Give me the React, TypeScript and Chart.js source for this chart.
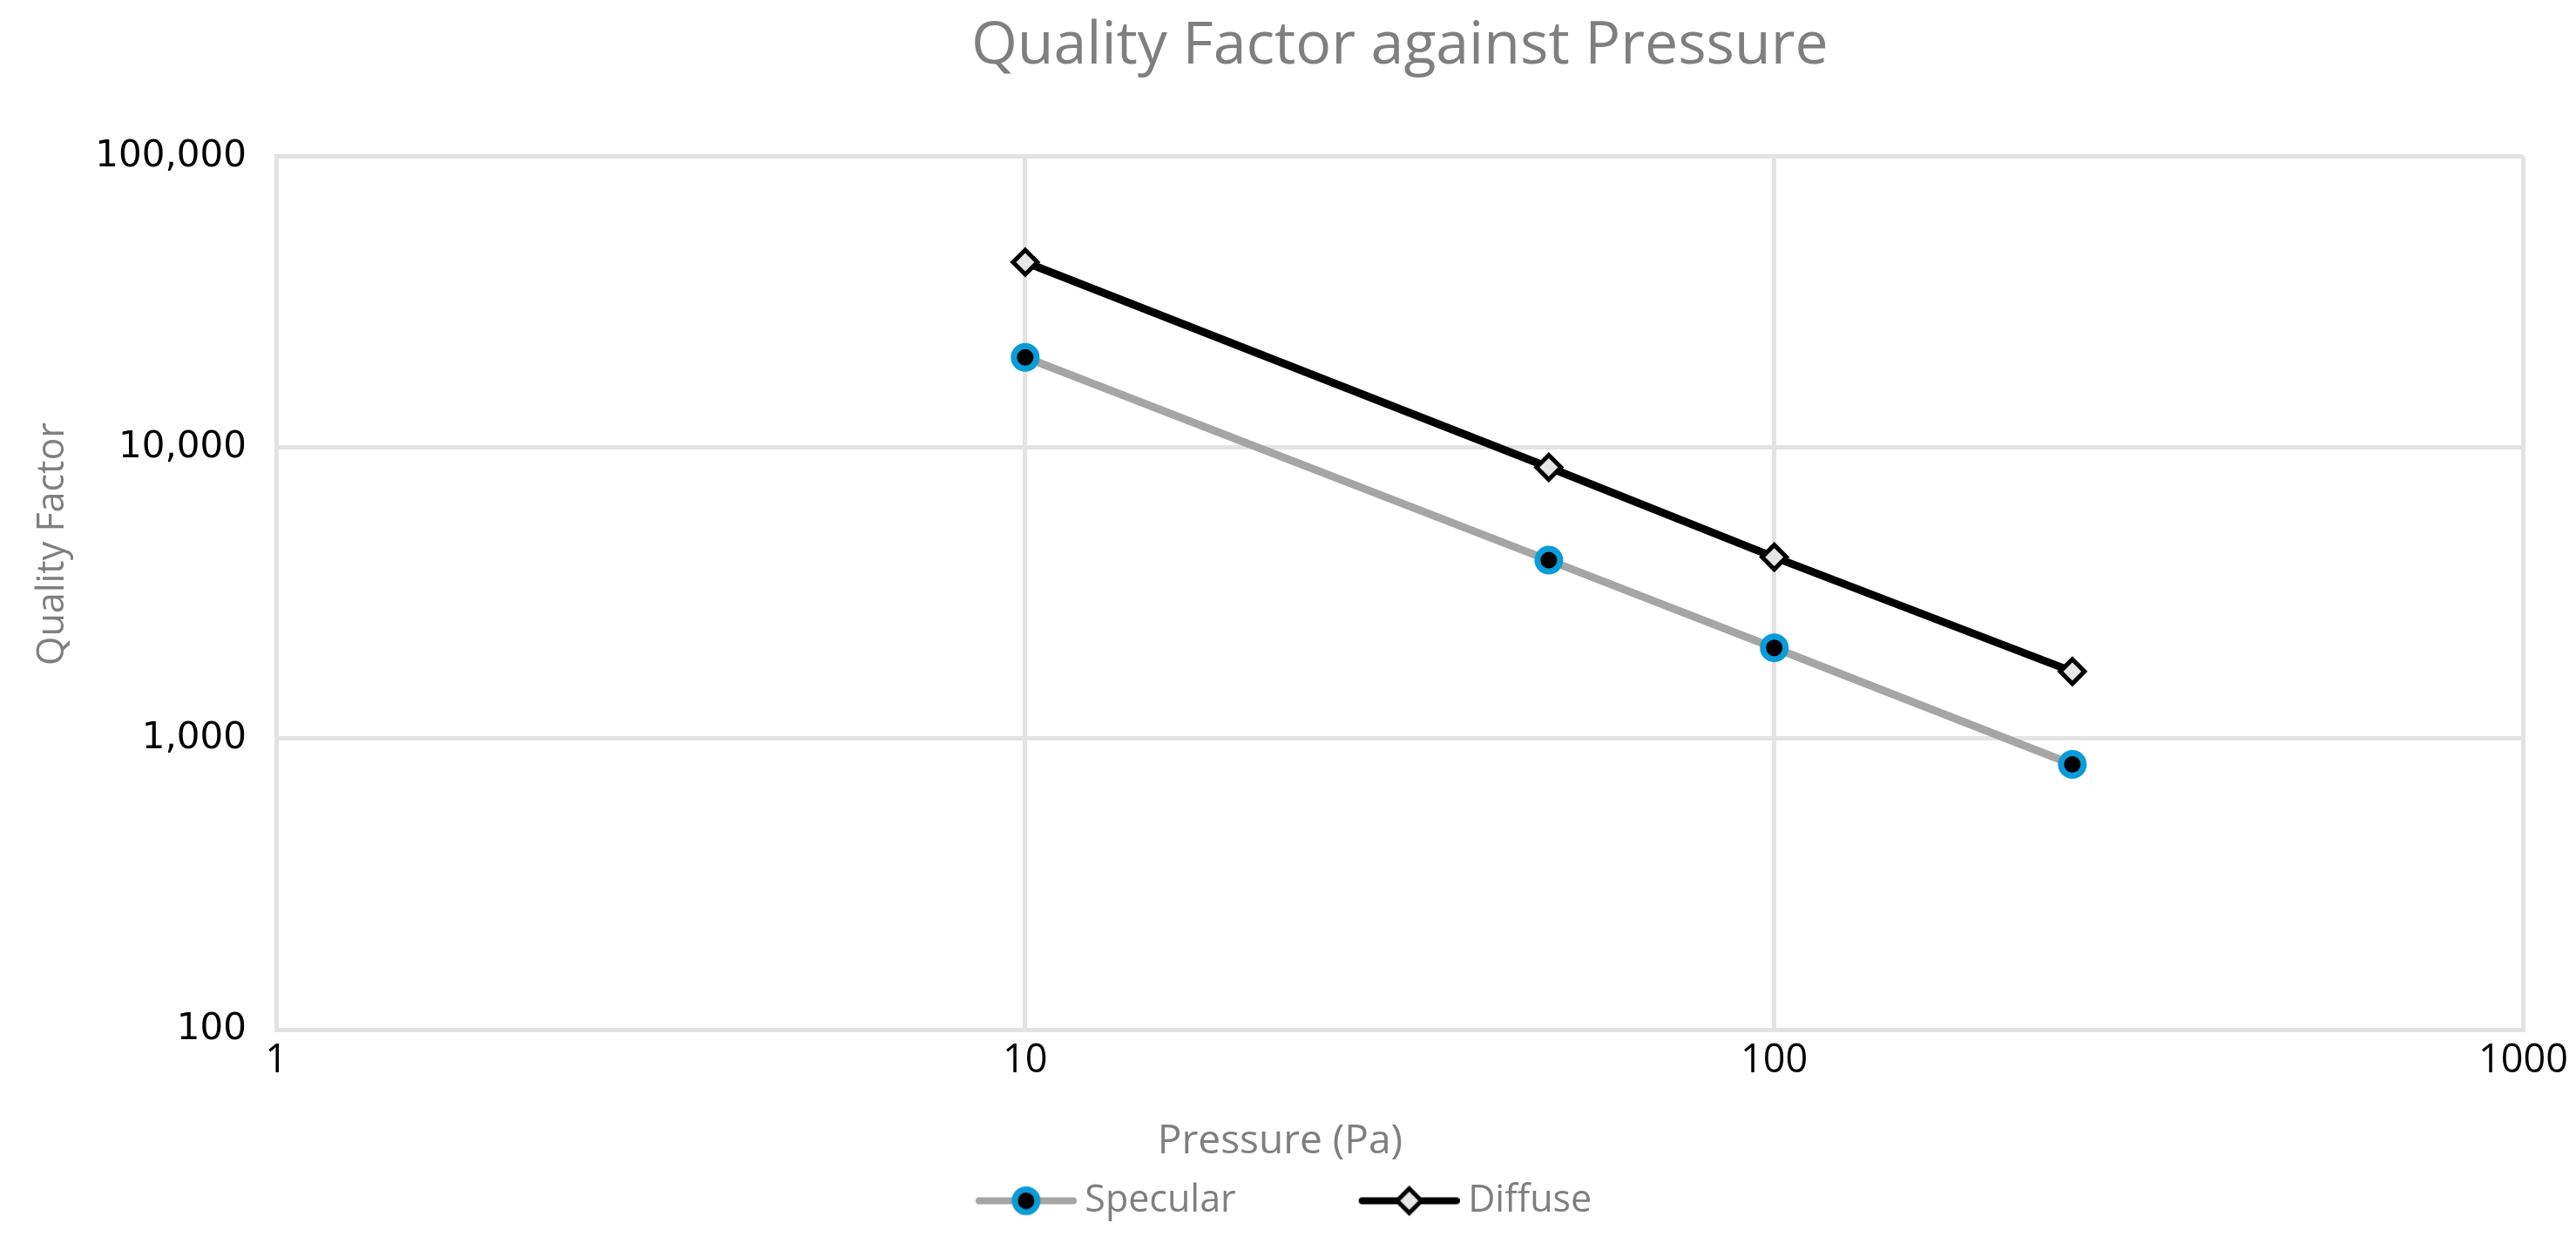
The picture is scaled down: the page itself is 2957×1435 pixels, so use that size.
import React, { useEffect, useRef } from 'react';
import { Chart, registerables } from 'chart.js';

Chart.register(...registerables);

const chartTitle = 'Quality Factor against Pressure';
const xAxisTitle = 'Pressure (Pa)';
const yAxisTitle = 'Quality Factor';
const seriesNames = ['Specular', 'Diffuse'];
const pressures = [10, 50, 100, 250];
const specular = [20400, 4100, 2050, 815];
const diffuse = [43300, 8550, 4200, 1700];
const xTicks = [1, 10, 100, 1000];
const yTicks = [100, 1000, 10000, 100000];

const GRAY_TEXT = '#7F7F7F';
const GRID = '#E3E3E3';
const SPEC_LINE = '#A5A5A5';
const SPEC_RING = '#0A9BD9';
const DIFF_FILL = '#E7E6E6';

const LEGEND_BOX = 125;

function makeLegendIcon(kind: 'spec' | 'diff') {
  const c = document.createElement('canvas');
  c.width = LEGEND_BOX + 24;
  c.height = 40;
  const ctx = c.getContext('2d')!;
  const x0 = c.width - 116;
  const mid = x0 + 58;
  ctx.lineCap = 'round';
  ctx.lineWidth = 8;
  ctx.strokeStyle = kind === 'spec' ? SPEC_LINE : '#000';
  ctx.beginPath();
  ctx.moveTo(x0 + 4, 20);
  ctx.lineTo(x0 + 112, 20);
  ctx.stroke();
  if (kind === 'spec') {
    ctx.beginPath();
    ctx.arc(mid, 20, 13, 0, Math.PI * 2);
    ctx.fillStyle = '#000';
    ctx.fill();
    ctx.lineWidth = 7;
    ctx.strokeStyle = SPEC_RING;
    ctx.stroke();
  } else {
    ctx.beginPath();
    ctx.moveTo(mid, 6);
    ctx.lineTo(mid + 14, 20);
    ctx.lineTo(mid, 34);
    ctx.lineTo(mid - 14, 20);
    ctx.closePath();
    ctx.fillStyle = DIFF_FILL;
    ctx.fill();
    ctx.lineWidth = 5;
    ctx.strokeStyle = '#000';
    ctx.stroke();
  }
  return c;
}

const axisTitlesPlugin = {
  id: 'axisTitles',
  afterDraw(chart: any) {
    const { ctx, chartArea } = chart;
    ctx.save();
    ctx.fillStyle = GRAY_TEXT;
    ctx.textAlign = 'center';
    ctx.textBaseline = 'middle';
    ctx.font = '46px "Open Sans"';
    ctx.fillText(xAxisTitle, chart.width / 2 - 9, chartArea.bottom + 129);
    ctx.translate(61, chartArea.top + 445);
    ctx.rotate(-Math.PI / 2);
    ctx.font = '43px "Open Sans"';
    ctx.fillText(yAxisTitle, 0, 0);
    ctx.restore();
  },
};

export default function App() {
  const ref = useRef<HTMLCanvasElement | null>(null);

  useEffect(() => {
    if (!ref.current) return;
    const icons = [makeLegendIcon('spec'), makeLegendIcon('diff')];
    const chart = new Chart(ref.current, {
      type: 'line',
      data: {
        datasets: [
          {
            label: seriesNames[0],
            data: pressures.map((x, i) => ({ x, y: specular[i] })),
            borderColor: SPEC_LINE,
            borderWidth: 9,
            pointStyle: 'circle',
            pointRadius: 13,
            pointBorderWidth: 7,
            pointBorderColor: SPEC_RING,
            pointBackgroundColor: '#000',
            tension: 0,
          },
          {
            label: seriesNames[1],
            data: pressures.map((x, i) => ({ x, y: diffuse[i] })),
            borderColor: '#000',
            borderWidth: 9,
            pointStyle: 'rectRot',
            pointRadius: 14,
            pointBorderWidth: 5,
            pointBorderColor: '#000',
            pointBackgroundColor: DIFF_FILL,
            tension: 0,
          },
        ],
      },
      options: {
        animation: false,
        responsive: false,
        devicePixelRatio: 1,
        layout: { padding: { left: 28, right: 59, top: 0, bottom: 25 } },
        plugins: {
          title: {
            display: true,
            text: chartTitle,
            fullSize: false,
            color: GRAY_TEXT,
            font: { family: 'Open Sans', size: 68, weight: 'normal' },
            padding: { top: 13, bottom: 85 },
          },
          legend: {
            position: 'bottom',
            labels: {
              usePointStyle: true,
              pointStyleWidth: LEGEND_BOX,
              padding: 120,
              color: GRAY_TEXT,
              font: { family: 'Open Sans', size: 43 },
              generateLabels: () =>
                seriesNames.map((name, i) => ({
                  text: name,
                  pointStyle: icons[i],
                  fillStyle: 'transparent',
                  strokeStyle: 'transparent',
                  lineWidth: 0,
                  hidden: false,
                  datasetIndex: i,
                  fontColor: GRAY_TEXT,
                })),
            },
          },
          tooltip: { enabled: false },
        },
        scales: {
          x: {
            type: 'logarithmic',
            min: 1,
            max: 1000,
            afterBuildTicks: (s: any) => {
              s.ticks = xTicks.map((v) => ({ value: v }));
            },
            afterFit: (s: any) => {
              s.height = 55;
            },
            ticks: {
              callback: (v: any) => String(v),
              color: '#000',
              font: { family: 'Open Sans', size: 45 },
              padding: 9,
              maxRotation: 0,
              autoSkip: false,
            },
            grid: { color: GRID, lineWidth: 5, drawTicks: false },
            border: { color: GRID, width: 5 },
          },
          y: {
            type: 'logarithmic',
            min: 100,
            max: 100000,
            afterBuildTicks: (s: any) => {
              s.ticks = yTicks.map((v) => ({ value: v }));
            },
            afterFit: (s: any) => {
              s.width = 289;
            },
            ticks: {
              callback: (v: any) => Number(v).toLocaleString('en-US'),
              color: '#000',
              font: { family: 'DejaVu Sans', size: 42 },
              padding: 34,
              autoSkip: false,
            },
            grid: { color: GRID, lineWidth: 5, drawTicks: false },
            border: { color: GRID, width: 5 },
          },
        },
      },
      plugins: [axisTitlesPlugin],
    } as any);
    return () => chart.destroy();
  }, []);

  return (
    <div style={{ position: 'absolute', left: 0, top: 0, width: 2957, height: 1435, background: '#fff' }}>
      <canvas ref={ref} width={2957} height={1435} style={{ width: 2957, height: 1435 }} />
    </div>
  );
}
